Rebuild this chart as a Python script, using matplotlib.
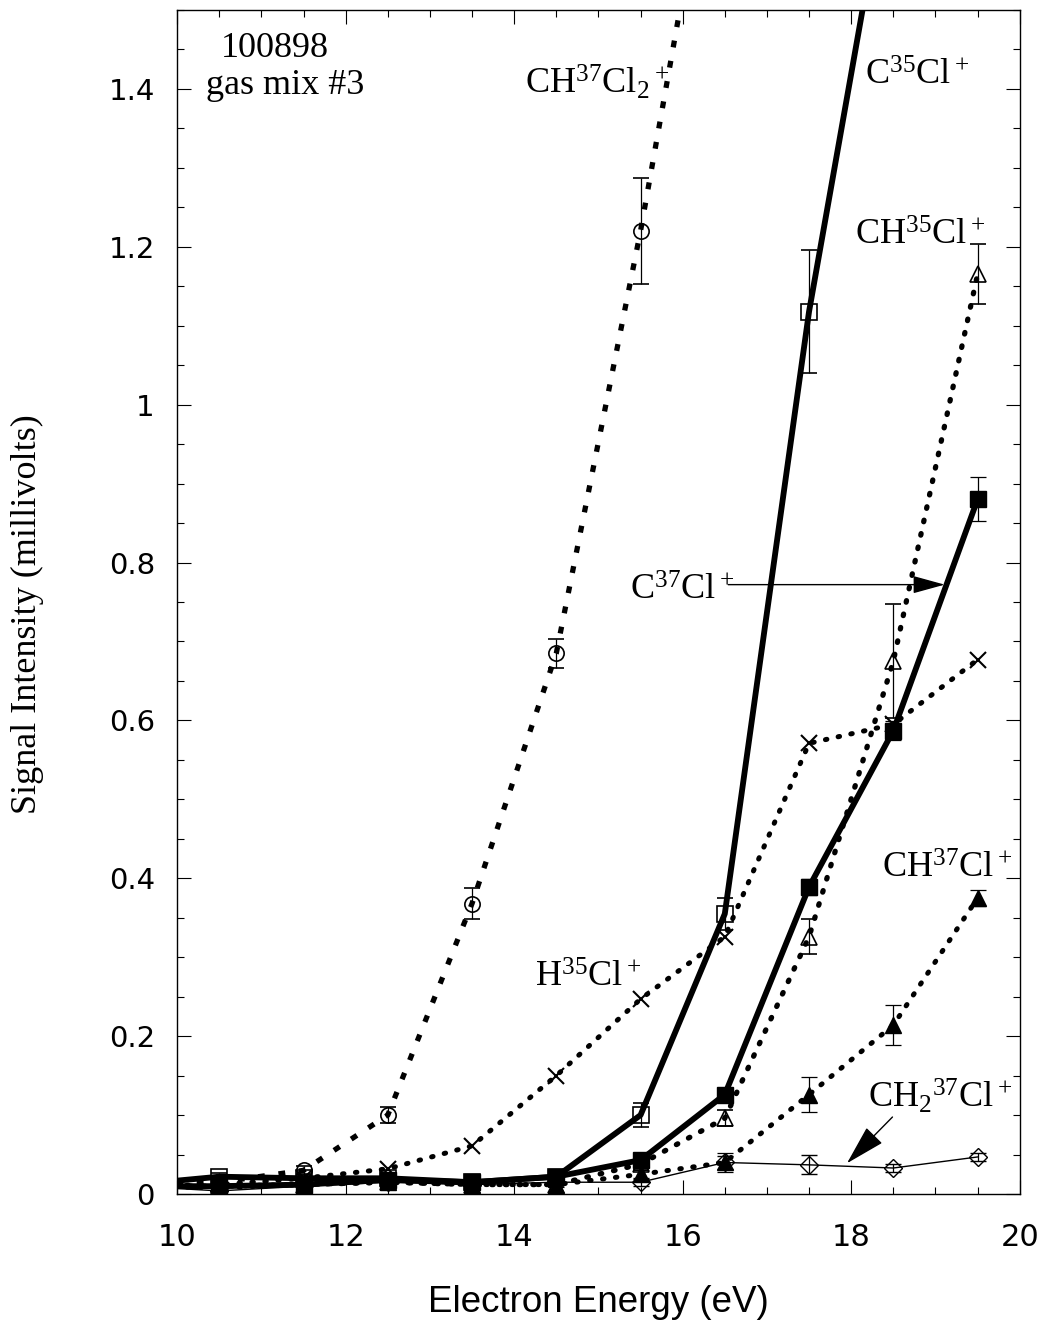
import numpy as np
import matplotlib.pyplot as plt
from matplotlib.ticker import MultipleLocator, FormatStrFormatter

plt.rcParams['mathtext.default'] = 'regular'

# electron energies (eV); the 9.5 point only carries the lines to the left edge
energy = [9.5, 10.5, 11.5, 12.5, 13.5, 14.5, 15.5, 16.5, 17.5, 18.5, 19.5]

ch37cl2 = [0.012, 0.015, 0.030, 0.100, 0.368, 0.685, 1.220, 1.820]
ch37cl2_err = [0.0, 0.004, 0.006, 0.010, 0.020, 0.018, 0.067, 0.07]

c35cl = [0.012, 0.022, 0.020, 0.020, 0.015, 0.022, 0.100, 0.355, 1.118, 1.72]
c35cl_err = [0.0, 0.005, 0.005, 0.005, 0.005, 0.005, 0.015, 0.020, 0.078, 0.08]

ch35cl = [0.010, 0.010, 0.012, 0.015, 0.012, 0.012, 0.038, 0.096, 0.326, 0.675, 1.165]
ch35cl_err = [0.0, 0.003, 0.003, 0.003, 0.003, 0.003, 0.008, 0.010, 0.022, 0.072, 0.038]

c37cl = [0.010, 0.010, 0.012, 0.018, 0.015, 0.022, 0.043, 0.126, 0.389, 0.587, 0.880]
c37cl_err = [0.0, 0.003, 0.003, 0.003, 0.003, 0.003, 0.006, 0.008, 0.010, 0.012, 0.028]

h35cl = [0.010, 0.012, 0.020, 0.032, 0.061, 0.150, 0.247, 0.326, 0.571, 0.595, 0.677]

ch37cl = [0.010, 0.008, 0.012, 0.015, 0.012, 0.012, 0.025, 0.040, 0.126, 0.214, 0.375]
ch37cl_err = [0.0, 0.003, 0.003, 0.003, 0.003, 0.003, 0.006, 0.012, 0.022, 0.025, 0.010]

ch2_37cl = [0.010, 0.004, 0.010, 0.015, 0.012, 0.015, 0.015, 0.040, 0.037, 0.033, 0.047]
ch2_37cl_err = [0.0, 0.003, 0.003, 0.003, 0.003, 0.003, 0.005, 0.008, 0.012, 0.005, 0.005]

fig = plt.figure(figsize=(10.48, 13.26), dpi=100)
ax = fig.add_axes([0.169, 0.0995, 0.804, 0.893])

serif = 'Liberation Serif'
eb = dict(ecolor='black', elinewidth=0.9, capsize=6, capthick=0.9, color='black')
dots = dict(linestyle=(0, (0.3, 2.3)), dash_capstyle='round')

ax.errorbar(energy[:len(ch37cl2)], ch37cl2, yerr=ch37cl2_err, lw=3.8,
            linestyle=(0, (1.3, 2.6)), dash_capstyle='butt',
            marker='o', ms=11, mfc='none', mew=1.2, **eb)
ax.errorbar(energy[:len(c35cl)], c35cl, yerr=c35cl_err, lw=4.2,
            marker='s', ms=11, mfc='none', mew=1.2, **eb)
ax.errorbar(energy, ch35cl, yerr=ch35cl_err, lw=3.8,
            marker='^', ms=11, mfc='none', mew=1.2, **dots, **eb)
ax.errorbar(energy, c37cl, yerr=c37cl_err, lw=4.2,
            marker='s', ms=11, mfc='black', **eb)
ax.plot(energy, h35cl, color='black', lw=3.6,
        marker='x', ms=12, mew=1.5, **dots)
ax.errorbar(energy, ch37cl, yerr=ch37cl_err, lw=3.6,
            marker='^', ms=11, mfc='black', **dots, **eb)
ax.errorbar(energy, ch2_37cl, yerr=ch2_37cl_err, lw=1.0,
            marker='D', ms=9, mfc='none', mew=1.0, **eb)

ax.set_xlim(10, 20)
ax.set_ylim(0, 1.5)
ax.xaxis.set_major_locator(MultipleLocator(2))
ax.xaxis.set_minor_locator(MultipleLocator(0.5))
ax.yaxis.set_major_locator(MultipleLocator(0.2))
ax.yaxis.set_minor_locator(MultipleLocator(0.05))
ax.yaxis.set_major_formatter(FormatStrFormatter('%g'))
ax.tick_params(which='both', direction='in', top=True, right=True, width=0.8)
ax.tick_params(which='major', length=10)
ax.tick_params(which='minor', length=5)
ax.tick_params(axis='x', which='major', labelsize=22, pad=21)
ax.tick_params(axis='y', which='major', labelsize=21, pad=16)
for s in ax.spines.values():
    s.set_linewidth(1.0)

ax.set_xlabel('Electron Energy (eV)', fontsize=26.5, family='Liberation Sans')
ax.xaxis.set_label_coords(0.5, -0.077)
ax.set_ylabel('Signal Intensity (millivolts)', fontsize=26, family=serif)
ax.yaxis.set_label_coords(-0.158, 0.49)

lab = dict(fontsize=26, family=serif, color='black')
ax.text(11.16, 1.441, '100898', ha='center', **lab)
ax.text(11.28, 1.394, 'gas mix #3', ha='center', **lab)
ax.text(14.13, 1.394, r'CH$^{37}$Cl$_2$$^+$', **lab)
ax.text(18.16, 1.405, r'C$^{35}$Cl$^+$', **lab)
ax.text(18.04, 1.203, r'CH$^{35}$Cl$^+$', **lab)
ax.text(15.37, 0.753, r'C$^{37}$Cl$^+$', **lab)
ax.text(18.36, 0.401, r'CH$^{37}$Cl$^+$', **lab)
ax.text(14.25, 0.2625, r'H$^{35}$Cl$^+$', **lab)
ax.text(18.20, 0.109, r'CH$_2$$^{37}$Cl$^+$', **lab)

arrow = dict(arrowstyle='-|>,head_length=0.8,head_width=0.22', color='black',
             lw=1.0, mutation_scale=25, shrinkA=0, shrinkB=0)
ax.annotate('', xy=(19.11, 0.772), xytext=(16.54, 0.772), arrowprops=arrow)
arrow2 = dict(arrow, mutation_scale=32)
ax.annotate('', xy=(17.95, 0.039), xytext=(18.49, 0.0976), arrowprops=arrow2)

fig.savefig('out.png', dpi=100)
